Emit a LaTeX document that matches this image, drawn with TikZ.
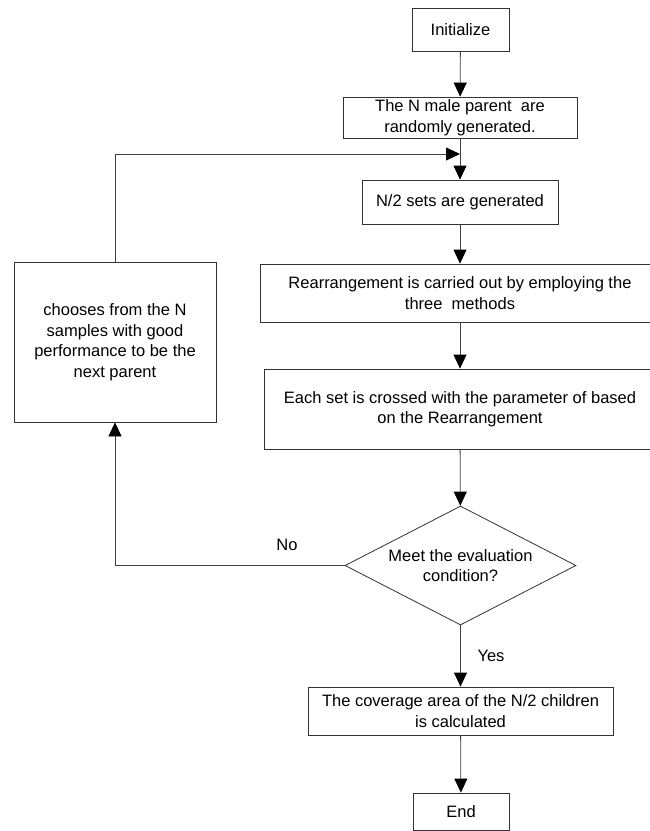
\documentclass[tikz,border=0pt]{standalone}
\usepackage{fontspec}
\setmainfont{Liberation Sans}
\usetikzlibrary{shapes.geometric,arrows.meta}
\begin{document}
\begin{tikzpicture}[x=1pt,y=-1pt,
  every node/.style={font=\fontsize{16.5}{20.5}\selectfont},
  box/.style={draw=black!80,line width=0.8pt,inner sep=0pt,align=center,rectangle},
  decision/.style={draw=black!80,line width=0.8pt,inner sep=0pt,align=center,diamond,shape aspect=1.94},
  flow/.style={draw=black!75,line width=0.8pt,-{Triangle[length=14pt,width=13pt,color=black]}},
  plain/.style={draw=black!80,line width=0.8pt}]
\useasboundingbox (0,0) rectangle (649,831);
\node[box,minimum width=97pt,minimum height=43pt] (init) at (460.5,29.5) {Initialize};
\node[box,minimum width=234pt,minimum height=41pt] (gen) at (460,117.5) {The N male parent\ \ are\\randomly generated.};
\node[box,minimum width=196pt,minimum height=44pt] (sets) at (460,202) {N/2 sets are generated};
\node[box,minimum width=400pt,minimum height=58pt] (rearr) at (460,293) {Rearrangement is carried out by employing the\\three\ \ methods};
\node[box,minimum width=392pt,minimum height=80pt] (cross) at (460,409) {Each set is crossed with the parameter of based\\on the Rearrangement};
\node[box,minimum width=202pt,minimum height=160pt] (choose) at (115,342) {chooses from the N\\samples with good\\performance to be the\\next parent};
\node[decision,minimum width=231pt,minimum height=119pt] (cond) at (460.5,565.5) {Meet the evaluation\\condition?};
\node[box,minimum width=305pt,minimum height=48pt] (cover) at (460.5,711) {The coverage area of the N/2 children\\is calculated};
\node[box,minimum width=96pt,minimum height=37pt] (end) at (461,811.5) {End};
\coordinate (merge) at (460,154);
\coordinate (nocorner) at (115,565.5);
\node (no) at (287,545) {No};
\node (yes) at (491,656) {Yes};
\draw[flow] (init) -- (gen);
\draw[flow] (gen) -- (sets);
\draw[flow] (choose.north) |- (merge);
\draw[flow] (sets) -- (rearr);
\draw[flow] (rearr) -- (cross);
\draw[flow] (cross) -- (cond);
\draw[flow] (cond.west) -- (nocorner) -- (choose.south);
\draw[flow] (cond) -- (cover);
\draw[flow] (cover) -- (end);
\end{tikzpicture}
\end{document}
